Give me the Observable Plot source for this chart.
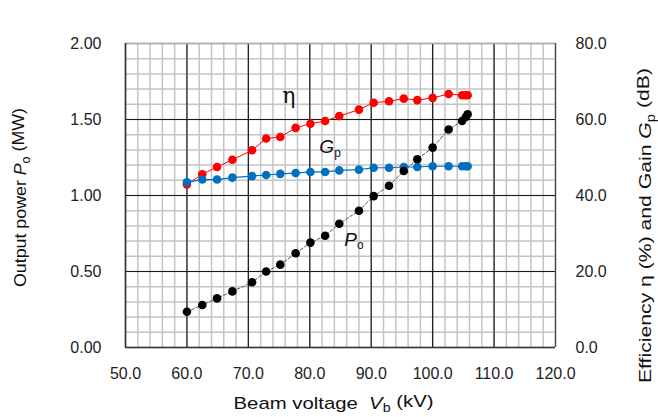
<!DOCTYPE html>
<html><head><meta charset="utf-8">
<script src="https://cdn.jsdelivr.net/npm/d3@7"></script>
<script src="https://cdn.jsdelivr.net/npm/@observablehq/plot@0.6"></script>
<style>body{margin:0;background:#fff} svg{display:block}</style>
</head><body><div id="chart"></div>
<script>
// Data
const voltage    = [60.0,62.5,64.9,67.4,70.6,72.9,75.2,77.7,80.1,82.5,84.8,88.0,90.4,92.9,95.3,97.5,100.0,102.6,104.8,105.4,105.7];
const power      = [0.235,0.280,0.323,0.369,0.429,0.500,0.545,0.620,0.690,0.735,0.814,0.900,0.996,1.064,1.161,1.238,1.315,1.434,1.490,1.517,1.535];
const efficiency = [42.9,45.6,47.5,49.4,51.9,55.0,55.4,57.8,58.9,59.6,60.9,62.6,64.4,64.8,65.5,65.1,65.7,66.7,66.4,66.4,66.4];
const gain       = [43.5,44.2,44.2,44.7,45.1,45.4,45.7,45.9,46.2,46.2,46.6,46.8,47.3,47.3,47.5,47.5,47.7,47.7,47.7,47.7,47.7];

const xTicks = [50,60,70,80,90,100,110,120];
const yLeftTicks = [0,0.5,1.0,1.5,2.0];
const rightMax = 80, leftMax = 2;
const factor = rightMax / leftMax;

const leftTitle  = [["Output power ",""],["P","i"],["o","sub"],[" (MW)",""]];
const rightTitle = [["Efficiency η (%) and Gain ",""],["G","i"],["p","sub"],[" (dB)",""]];
const bottomTitle= [["Beam voltage  ",""],["V","i"],["b","sub"],[" (kV)",""]];
const lblEta = [["η",""]];
const lblGp  = [["G","i"],["p","sub"]];
const lblPo  = [["P","i"],["o","sub"]];

const rows = voltage.map((v,i)=>({v, p:power[i], e:efficiency[i]/factor, g:gain[i]/factor}));
const minorX = d3.range(50,120.01,2);
const minorY = d3.range(0,2.001,0.1);
const majorX = [60,70,80,90,100,110];
const majorY = [0.5,1.0,1.5];

const font = "'Liberation Sans', Arial, sans-serif";

const chart = Plot.plot({
  width: 658, height: 417,
  marginLeft: 125, marginRight: 103, marginTop: 43, marginBottom: 70,
  style: {fontFamily: font, fontSize: "16px", color: "#222", background: "#fff", overflow: "visible"},
  x: {domain: [50,120]},
  y: {domain: [0,2]},
  marks: [
    Plot.ruleX(minorX, {stroke: "#c4c4c4", strokeWidth: 1.5}),
    Plot.ruleY(minorY, {stroke: "#c4c4c4", strokeWidth: 1.5}),
    Plot.ruleX(majorX, {stroke: "#1a1a1a", strokeWidth: 1.2}),
    Plot.ruleY(majorY, {stroke: "#1a1a1a", strokeWidth: 1.2}),
    Plot.ruleY([2], {stroke: "#aaa", strokeWidth: 1.5}),
    Plot.ruleX([120], {stroke: "#444", strokeWidth: 1.3}),
    Plot.ruleX([50], {stroke: "#333", strokeWidth: 1.6}),
    Plot.ruleY([0], {stroke: "#333", strokeWidth: 1.6}),
    Plot.line(rows, {x: "v", y: "p", stroke: "#555", strokeWidth: 1, strokeDasharray: "3,2"}),
    Plot.line(rows, {x: "v", y: "e", stroke: "#ff0000", strokeWidth: 1}),
    Plot.line(rows, {x: "v", y: "g", stroke: "#0070c0", strokeWidth: 1.2}),
    Plot.dot(rows, {x: "v", y: "e", r: 4.3, fill: "#ff0000"}),
    Plot.dot(rows, {x: "v", y: "g", r: 4.3, fill: "#0070c0"}),
    Plot.dot(rows, {x: "v", y: "p", r: 4.3, fill: "#000"}),
    Plot.axisX(xTicks, {tickSize: 0, tickPadding: 20, tickFormat: d3.format(".1f"), label: null, fontSize: 16}),
    Plot.axisY(yLeftTicks, {anchor: "left", tickSize: 0, tickPadding: 24, tickFormat: d3.format(".2f"), label: null, fontSize: 16}),
    Plot.axisY(yLeftTicks, {anchor: "right", tickSize: 0, tickPadding: 20, tickFormat: d => (d*factor).toFixed(1), label: null, fontSize: 16}),
    Plot.text(["L"], {frameAnchor: "left", dx: -105, dy: 2, rotate: -90, textAnchor: "middle", className: "t-left", fontSize: 17, fill: "#111"}),
    Plot.text(["R"], {frameAnchor: "right", dx: 90, dy: 30, rotate: -90, textAnchor: "middle", className: "t-right", fontSize: 17, fill: "#111"}),
    Plot.text(["B"], {frameAnchor: "bottom", dx: -7, dy: 61, textAnchor: "middle", className: "t-bottom", fontSize: 17, fill: "#111"}),
    Plot.text([{v: 76.6, y: 1.655}], {x: "v", y: "y", className: "t-eta", fontSize: 22, fill: "#111", fontFamily: "'DejaVu Serif', serif"}),
    Plot.text([{v: 83.3, y: 1.32}], {x: "v", y: "y", className: "t-gp", fontSize: 19, fill: "#111"}),
    Plot.text([{v: 87.2, y: 0.71}], {x: "v", y: "y", className: "t-po", fontSize: 19, fill: "#111"})
  ]
});

function rich(cls, parts, len) {
  const t = d3.select(chart).select("." + cls + " text");
  t.text(null);
  const base = parseFloat(t.attr("font-size")) || 17;
  let prevSub = false;
  parts.forEach(([s, st]) => {
    const sp = t.append("tspan").text(s);
    if (st === "i") sp.attr("font-style", "italic");
    if (st === "sub") { sp.attr("font-size", base*0.7).attr("dy", "0.3em"); prevSub = true; }
    else if (prevSub) { sp.attr("dy", "-0.3em"); prevSub = false; }
  });
  if (len) t.attr("textLength", len).attr("lengthAdjust", "spacingAndGlyphs");
}
rich("t-left", leftTitle, 179);
rich("t-right", rightTitle, 315);
rich("t-bottom", bottomTitle, 200);
rich("t-eta", lblEta);
rich("t-gp", lblGp);
rich("t-po", lblPo);

document.getElementById("chart").appendChild(chart);
</script></body></html>
